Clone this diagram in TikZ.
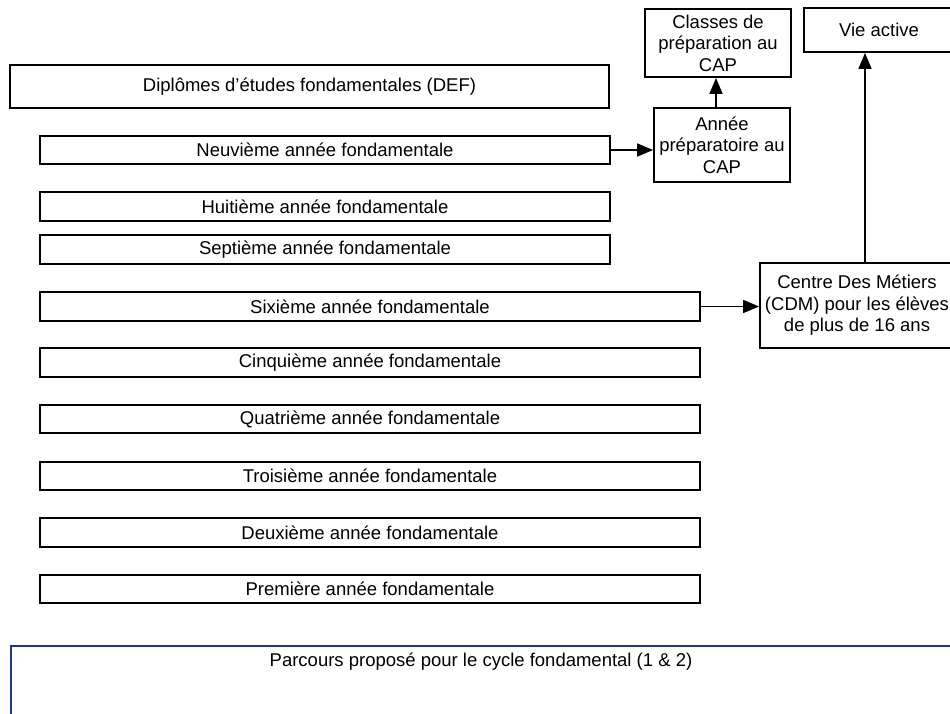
\documentclass[tikz,border=0pt]{standalone}
\usepackage{fontspec}
\setmainfont{Liberation Sans}
\usetikzlibrary{arrows.meta}
\definecolor{navy}{RGB}{31,56,120}
\begin{document}
\begin{tikzpicture}[x=1pt,y=-1pt,
  every node/.style={font=\fontsize{18.5}{21.5}\selectfont, inner sep=0pt},
  yearbox/.style={draw=black, line width=1.8pt, minimum height=28.5pt},
  shortbar/.style={yearbox, minimum width=570pt},
  longbar/.style={yearbox, minimum width=660pt},
  sidebox/.style={draw=black, line width=1.8pt, align=center},
  conn/.style={line width=1.6pt, -{Triangle[length=16pt,width=13pt]}}]
\useasboundingbox (0,0) rectangle (950,713);
\clip (0,0) rectangle (950,713);
\fill[white] (0,0) rectangle (950,713);

\node[draw=black, line width=1.8pt, minimum width=599pt, minimum height=43pt] (def) at (309.5,86.5) {Diplômes d’études fondamentales (DEF)};

\node[shortbar] (y9) at (325,150) {Neuvième année fondamentale};
\node[shortbar] (y8) at (325,206.5) {Huitième année fondamentale};
\node[shortbar] (y7) at (325,249.5) {Septième année fondamentale};
\node[longbar] (y6) at (370,306.5) {Sixième année fondamentale};
\node[longbar] (y5) at (370,362.5) {Cinquième année fondamentale};
\node[longbar] (y4) at (370,419) {Quatrième année fondamentale};
\node[longbar] (y3) at (370,476) {Troisième année fondamentale};
\node[longbar] (y2) at (370,532.5) {Deuxième année fondamentale};
\node[longbar] (y1) at (370,589) {Première année fondamentale};

\node[sidebox, minimum width=146pt, minimum height=68pt] (classes) at (718,43) {Classes de\\préparation au\\CAP};
\node[sidebox, minimum width=136pt, minimum height=74pt] (annee) at (722,145) {Année\\préparatoire au\\CAP};
\node[sidebox, minimum width=150pt, minimum height=44pt] (vie) at (879,30) {Vie active};
\node[sidebox, minimum width=194pt, minimum height=85pt] (cdm) at (857,305.5) {Centre Des Métiers\\(CDM) pour les élèves\\de plus de 16 ans};

\node[draw=navy, line width=2pt, anchor=north west, minimum width=942pt, minimum height=150pt] (parcours) at (10,645) {};
\node (parcourstext) at (481,662) {Parcours proposé pour le cycle fondamental (1 \& 2)};

\draw[conn] (y9.east) -- (y9.east -| annee.west);
\draw[conn] ([xshift=-6pt]annee.north) -- ([xshift=-2pt]classes.south);
\draw[conn] (y6.east) -- (y6.east -| cdm.west);
\draw[conn] ([xshift=8pt]cdm.north) -- ([xshift=8pt]cdm.north |- vie.south);
\end{tikzpicture}
\end{document}
